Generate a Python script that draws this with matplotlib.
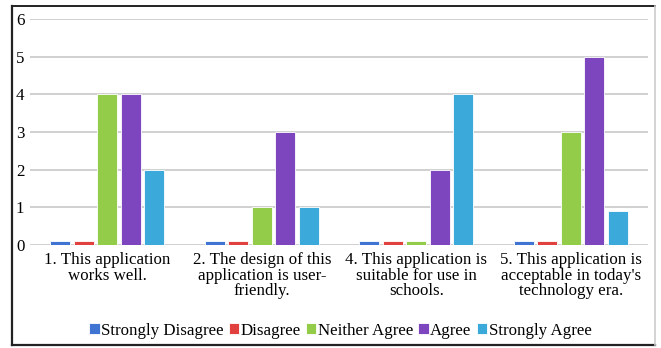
import matplotlib.pyplot as plt
import numpy as np
from matplotlib.lines import Line2D

plt.rcParams['font.family'] = ['Liberation Serif', 'DejaVu Serif']

questions = ['1. This application\nworks well.',
             '2. The design of this\napplication is user-\nfriendly.',
             '4. This application is\nsuitable for use in\nschools.',
             '5. This application is\nacceptable in today\'s\ntechnology era.']
responses = ['Strongly Disagree', 'Disagree', 'Neither Agree', 'Agree', 'Strongly Agree']
strongly_disagree = [0.1, 0.1, 0.1, 0.1]
disagree = [0.1, 0.1, 0.1, 0.1]
neither = [4, 1, 0.1, 3]
agree = [4, 3, 2, 5]
strongly_agree = [2, 1, 4, 0.9]
colors = ['#3F74D3', '#E0413F', '#92CC48', '#7D46BF', '#3BA9D9']

series = [strongly_disagree, disagree, neither, agree, strongly_agree]

fig = plt.figure(figsize=(6.61, 3.48), dpi=100)
ax = fig.add_axes([0.0454, 0.296, 0.935, 0.649])

x = np.arange(len(questions))
pitch = 0.152
width = 0.13
for i, (vals, lab, c) in enumerate(zip(series, responses, colors)):
    ax.bar(x + (i - 2) * pitch, vals, width, color=c, label=lab,
           edgecolor='white', linewidth=0.6, zorder=3)

ax.set_xlim(-0.5, 3.5)
ax.set_ylim(0, 6)
ax.set_yticks(range(7))
ax.grid(axis='y', color='#d0d0d0', linewidth=1.4, zorder=0)
for s in ax.spines.values():
    s.set_visible(False)
ax.tick_params(axis='both', length=0, labelsize=12.2, colors='black')
ax.tick_params(axis='y', pad=4)
ax.tick_params(axis='x', pad=5)
ax.set_xticks(x)
ax.set_xticklabels(questions, linespacing=0.97)

leg = fig.legend(loc='center', bbox_to_anchor=(0.515, 0.05), ncol=5, frameon=False,
                 fontsize=12.2, handlelength=0.6, handleheight=0.6,
                 handletextpad=0.1, columnspacing=0.3)

# outer frame
fig.add_artist(Line2D([0.018, 0.018], [0.009, 0.983], color='#222222', lw=1.6))
fig.add_artist(Line2D([0.018, 0.991], [0.009, 0.009], color='#222222', lw=1.6))
fig.add_artist(Line2D([0.018, 0.991], [0.983, 0.983], color='#222222', lw=1.4))
fig.add_artist(Line2D([0.991, 0.991], [0.009, 0.983], color='#cccccc', lw=1.2))

plt.savefig('out.png')
